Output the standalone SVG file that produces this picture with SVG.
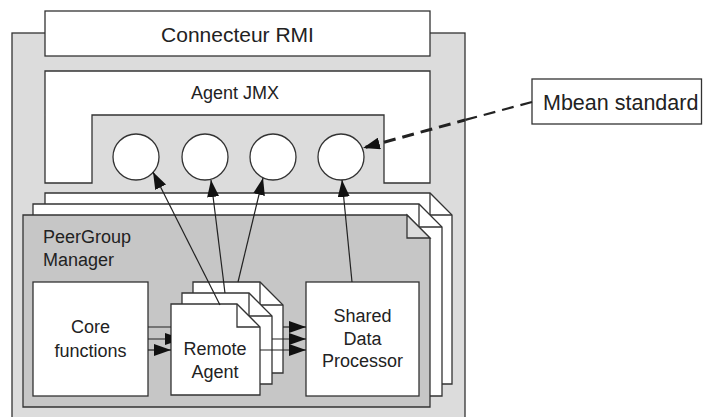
<svg xmlns="http://www.w3.org/2000/svg" width="703" height="417" viewBox="0 0 703 417">
<style>
.box{fill:#fff;stroke:#333;stroke-width:1.3}
.gray{fill:#dcdcdc;stroke:#333;stroke-width:1.3}
.dark{fill:#c6c6c6;stroke:#333;stroke-width:1.3}
.fold{fill:none;stroke:#333;stroke-width:1.3}
.t{font-family:"Liberation Sans",Arial,sans-serif;font-size:18px;fill:#222}
.tl{font-family:"Liberation Sans",Arial,sans-serif;font-size:21px;fill:#222}
.c{text-anchor:middle}
.ln{fill:none;stroke:#222;stroke-width:1.2}
</style>
<defs>
<marker id="ah" viewBox="0 0 17 12" refX="17" refY="6" markerWidth="17" markerHeight="12" markerUnits="userSpaceOnUse" orient="auto">
<path d="M0,0 L17,6 L0,12 Z" fill="#111"/>
</marker>
<clipPath id="clipCore"><rect x="140" y="300" width="31" height="70"/></clipPath>
</defs>

<g id="container">
<rect class="gray" x="12" y="33" width="453" height="400"/>
</g>

<g id="connecteur-rmi">
<rect class="box" x="45" y="11" width="385" height="45"/>
<text class="tl c" x="237.5" y="42">Connecteur RMI</text>
</g>

<g id="agent-jmx">
<path class="box" d="M45,71 H430 V183 H384 V115 H92 V183 H45 Z"/>
<text class="t c" x="235" y="99">Agent JMX</text>
</g>

<g id="mbeans">
<circle class="box" cx="136" cy="157" r="23"/>
<circle class="box" cx="205" cy="157" r="23"/>
<circle class="box" cx="273" cy="157" r="23"/>
<circle class="box" cx="341" cy="157" r="23"/>
</g>

<g id="peergroup-back2">
<path class="box" d="M45,193 H430 L452,215 V384 H45 Z"/>
<path class="fold" d="M430,193 V215 H452"/>
</g>
<g id="peergroup-back1">
<path class="box" d="M33,204 H419 L442,227 V396 H33 Z"/>
<path class="fold" d="M419,204 V227 H442"/>
</g>
<g id="peergroup-manager">
<path class="dark" d="M23,215 H407 L430,238 V407 H23 Z"/>
<path class="gray" d="M407,215 V238 H430 Z"/>
<text class="t" x="43" y="243">PeerGroup</text>
<text class="t" x="43" y="266">Manager</text>
</g>

<g id="core-functions">
<rect class="box" x="33" y="282" width="115" height="114"/>
<text class="t c" x="90.5" y="333">Core</text>
<text class="t c" x="90.5" y="357">functions</text>
</g>

<g id="remote-agent-back2">
<path class="box" d="M193,282 H260 L283,305 V373 H193 Z"/>
<path class="fold" d="M260,282 V305 H283"/>
</g>
<g id="remote-agent-back1">
<path class="box" d="M182,293 H249 L272,316 V384 H182 Z"/>
<path class="fold" d="M249,293 V316 H272"/>
</g>
<g id="remote-agent">
<path class="box" d="M171,304 H237 L260,327 V395 H171 Z"/>
<path class="fold" d="M237,304 V327 H260"/>
<text class="t c" x="215" y="355">Remote</text>
<text class="t c" x="215" y="378">Agent</text>
</g>

<g id="shared-data-processor">
<rect class="box" x="306" y="282" width="113" height="114"/>
<text class="t c" x="362.5" y="322">Shared</text>
<text class="t c" x="362.5" y="345">Data</text>
<text class="t c" x="362.5" y="367">Processor</text>
</g>

<g id="mbean-standard">
<rect class="box" x="532" y="79" width="169.5" height="45"/>
<text class="tl" x="543" y="110" style="font-size:21.5px">Mbean standard</text>
</g>

<g id="connectors">
<g clip-path="url(#clipCore)">
<path class="ln" d="M148,327 H193" marker-end="url(#ah)"/>
<path class="ln" d="M148,339 H182" marker-end="url(#ah)"/>
</g>
<path class="ln" d="M148,350 H171" marker-end="url(#ah)"/>
<path class="ln" d="M283,327 H306" marker-end="url(#ah)"/>
<path class="ln" d="M272,339 H306" marker-end="url(#ah)"/>
<path class="ln" d="M260,350 H306" marker-end="url(#ah)"/>
<path class="ln" d="M220,305 L153,172" marker-end="url(#ah)"/>
<path class="ln" d="M225,293 L211,180" marker-end="url(#ah)"/>
<path class="ln" d="M238,282 L263,178" marker-end="url(#ah)"/>
<path class="ln" d="M352,282 L342,180" marker-end="url(#ah)"/>
<path d="M532,102 L465,120" fill="none" stroke="#222" stroke-width="2.2" stroke-dasharray="12,7"/>
<path d="M465,120 L363,148" fill="none" stroke="#222" stroke-width="3" stroke-dasharray="12,7" stroke-dashoffset="4" marker-end="url(#ah)"/>
</g>
</svg>
